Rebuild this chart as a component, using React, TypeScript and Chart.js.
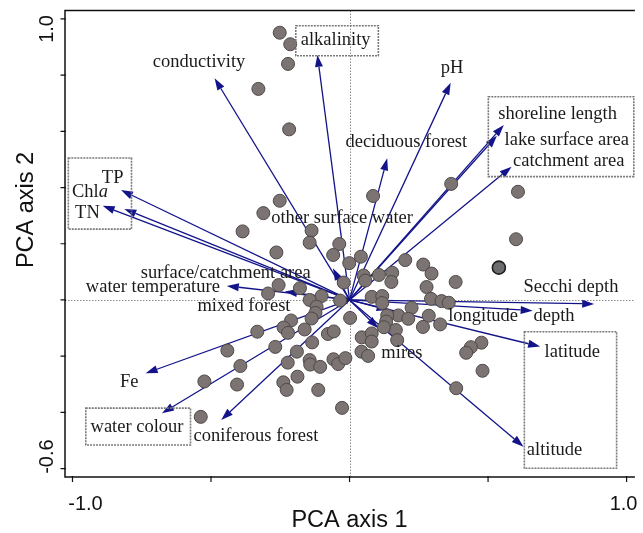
import React, { useEffect, useRef } from 'react';
import { Chart, registerables } from 'chart.js';

Chart.register(...registerables);

// ---- Site scores (PCA axis 1, PCA axis 2) ----
const SITE_X = [
  -0.252, -0.214, -0.222, -0.329, -0.218, 0.367, 0.608, 0.601, 0.383, 0.085,
  -0.252, -0.311, -0.386, -0.137, -0.144, -0.037, -0.264, -0.059, 0.041, -0.001,
  0.201, 0.266, 0.296, 0.154, 0.106, 0.051, 0.057, 0.151, -0.021, -0.256,
  -0.179, -0.294, -0.101, 0.278, -0.144, -0.119, -0.034, 0.080, 0.118, 0.118,
  0.294, 0.332, 0.358, 0.224, 0.176, 0.136, 0.132, 0.212, 0.286, 0.327,
  0.265, 0.002, -0.123, -0.137, -0.211, -0.238, -0.222, -0.162, -0.333, -0.078,
  -0.057, 0.044, 0.080, 0.080, 0.167, 0.172, 0.124, -0.135, -0.268, -0.190,
  -0.441, 0.043, 0.067, -0.394, -0.223, -0.144, -0.142, -0.106, -0.058, -0.041,
  -0.015, -0.524, -0.406, -0.239, -0.188, -0.227, -0.113, -0.027, -0.537, 0.476,
  0.438, 0.421, 0.480, 0.385,
];
const SITE_Y = [
  0.951, 0.910, 0.840, 0.751, 0.607, 0.413, 0.385, 0.216, 0.064, 0.370,
  0.353, 0.309, 0.244, 0.247, 0.204, 0.199, 0.169, 0.160, 0.154, 0.131,
  0.142, 0.126, 0.094, 0.097, 0.089, 0.087, 0.069, 0.064, 0.062, 0.053,
  0.042, 0.023, 0.014, 0.046, 0.000, -0.024, -0.002, 0.011, 0.014, -0.011,
  0.004, -0.004, -0.010, -0.028, -0.055, -0.055, -0.077, -0.067, -0.056, -0.087,
  -0.096, -0.064, -0.046, -0.066, -0.073, -0.098, -0.117, -0.105, -0.113, -0.121,
  -0.112, -0.133, -0.119, -0.148, -0.107, -0.143, -0.097, -0.151, -0.167, -0.184,
  -0.180, -0.184, -0.199, -0.235, -0.223, -0.214, -0.230, -0.238, -0.211, -0.228,
  -0.207, -0.290, -0.301, -0.293, -0.273, -0.320, -0.320, -0.384, -0.416, -0.152,
  -0.168, -0.188, -0.252, -0.314,
];
const HIGHLIGHT_X = [0.539];
const HIGHLIGHT_Y = [0.115];

// ---- Environmental variable loadings (arrow tips) ----
const VAR_NAMES = [
  'alkalinity', 'conductivity', 'pH', 'deciduous forest', 'shoreline length',
  'lake surface area', 'catchment area', 'TP', 'Chla', 'TN',
  'other surface water', 'surface/catchment area', 'water temperature', 'mixed forest',
  'Secchi depth', 'depth', 'longitude', 'mires', 'latitude', 'altitude',
  'Fe', 'water colour', 'coniferous forest',
];
const VAR_X = [
  -0.116, -0.487, 0.365, 0.136, 0.557,
  0.532, 0.585, -0.825, -0.813, -0.891,
  -0.060, -0.233, -0.443, -0.045,
  0.883, 0.661, 0.141, 0.104, 0.688, 0.628,
  -0.736, -0.677, -0.463,
];
const VAR_Y = [
  0.872, 0.789, 0.773, 0.504, 0.623,
  0.584, 0.474, 0.391, 0.324, 0.335,
  0.113, 0.030, 0.050, -0.006,
  -0.014, -0.038, -0.036, -0.101, -0.166, -0.522,
  -0.261, -0.403, -0.427,
];

// ---- Axes ----
const X_RANGE = [-1.027, 1.03];
const Y_RANGE = [-0.63, 1.03];
const X_TICKS = [-1, -0.5, 0, 0.5, 1];
const X_TICK_LABELS = ['-1.0', '', '', '', '1.0'];
const Y_TICKS = [-0.6, -0.4, -0.2, 0, 0.2, 0.4, 0.6, 0.8, 1.0];
const Y_TICK_LABELS = ['-0.6', '', '', '', '', '', '', '', '1.0'];
const X_TITLE = 'PCA axis 1';
const Y_TITLE = 'PCA axis 2';

// ---- Label layout (centre of each label, data units) ----
const LABEL_LAYOUT: Record<string, [number, number]> = {
  'conductivity': [-0.543, 0.847],
  'alkalinity': [-0.050, 0.925],
  'pH': [0.370, 0.826],
  'deciduous forest': [0.205, 0.562],
  'shoreline length': [0.751, 0.662],
  'lake surface area': [0.784, 0.569],
  'catchment area': [0.791, 0.495],
  'TP': [-0.855, 0.434],
  'Chla': [-0.937, 0.382],
  'TN': [-0.946, 0.310],
  'other surface water': [-0.027, 0.291],
  'surface/catchment area': [-0.447, 0.097],
  'water temperature': [-0.710, 0.047],
  'mixed forest': [-0.381, -0.023],
  'Secchi depth': [0.799, 0.045],
  'longitude': [0.482, -0.057],
  'depth': [0.738, -0.057],
  'latitude': [0.804, -0.184],
  'altitude': [0.740, -0.534],
  'mires': [0.189, -0.190],
  'Fe': [-0.795, -0.291],
  'water colour': [-0.767, -0.453],
  'coniferous forest': [-0.338, -0.486],
};
// dashed group boxes [x1, y1, x2, y2] in data units
const BOXES: [number, number, number, number][] = [
  [-0.194, 0.976, 0.104, 0.869],
  [0.501, 0.723, 1.026, 0.439],
  [-1.015, 0.505, -0.787, 0.252],
  [-0.952, -0.385, -0.574, -0.516],
  [0.631, -0.113, 0.964, -0.599],
];

const ARROW_COLOR = '#14148a';
const SERIF = '"Liberation Serif", "DejaVu Serif", serif';
const SANS = '"Liberation Sans", Arial, sans-serif';

function drawArrow(ctx: CanvasRenderingContext2D, x0: number, y0: number, x1: number, y1: number) {
  const dx = x1 - x0, dy = y1 - y0;
  const len = Math.hypot(dx, dy);
  if (len < 1) return;
  const ux = dx / len, uy = dy / len;
  const head = Math.min(12, len * 0.8), hw = 4;
  const bx = x1 - ux * head, by = y1 - uy * head;
  ctx.beginPath();
  ctx.moveTo(x0, y0);
  ctx.lineTo(bx, by);
  ctx.stroke();
  ctx.beginPath();
  ctx.moveTo(x1, y1);
  ctx.lineTo(bx - uy * hw, by + ux * hw);
  ctx.lineTo(bx + uy * hw, by - ux * hw);
  ctx.closePath();
  ctx.fill();
}

const biplotPlugin = {
  id: 'biplot',
  beforeDatasetsDraw(chart: any) {
    const { ctx, chartArea: a, scales } = chart;
    const xs = scales.x, ys = scales.y;
    const ox = xs.getPixelForValue(0), oy = ys.getPixelForValue(0);
    ctx.save();
    ctx.strokeStyle = '#8a8a8a';
    ctx.lineWidth = 1;
    ctx.setLineDash([1.5, 1.5]);
    ctx.beginPath();
    ctx.moveTo(Math.round(ox) + 0.5, a.top);
    ctx.lineTo(Math.round(ox) + 0.5, a.bottom);
    ctx.moveTo(a.left, Math.round(oy) + 0.5);
    ctx.lineTo(a.right, Math.round(oy) + 0.5);
    ctx.stroke();
    ctx.setLineDash([]);
    ctx.strokeStyle = ARROW_COLOR;
    ctx.fillStyle = ARROW_COLOR;
    ctx.lineWidth = 1.3;
    VAR_X.forEach((vx, i) => {
      drawArrow(ctx, ox, oy, xs.getPixelForValue(vx), ys.getPixelForValue(VAR_Y[i]));
    });
    ctx.restore();
  },
  afterDatasetsDraw(chart: any) {
    const { ctx, chartArea: a, scales } = chart;
    const xs = scales.x, ys = scales.y;
    ctx.save();
    // boxes
    ctx.strokeStyle = '#7a7a7a';
    ctx.lineWidth = 1.6;
    ctx.setLineDash([2, 1]);
    BOXES.forEach(([x1, y1, x2, y2]) => {
      const px1 = xs.getPixelForValue(x1), py1 = ys.getPixelForValue(y1);
      const px2 = xs.getPixelForValue(x2), py2 = ys.getPixelForValue(y2);
      ctx.strokeRect(px1, py1, px2 - px1, py2 - py1);
    });
    ctx.setLineDash([]);
    // labels
    ctx.fillStyle = '#1a1a1a';
    ctx.textBaseline = 'middle';
    const fs = 18.5;
    VAR_NAMES.forEach((name) => {
      const pos = LABEL_LAYOUT[name];
      if (!pos) return;
      const cx = xs.getPixelForValue(pos[0]);
      const cy = ys.getPixelForValue(pos[1]);
      if (name === 'Chla') {
        ctx.font = `${fs}px ${SERIF}`;
        const w1 = ctx.measureText('Chl').width;
        ctx.font = `italic ${fs}px ${SERIF}`;
        const w2 = ctx.measureText('a').width;
        const left = cx - (w1 + w2) / 2;
        ctx.textAlign = 'left';
        ctx.font = `${fs}px ${SERIF}`;
        ctx.fillText('Chl', left, cy);
        ctx.font = `italic ${fs}px ${SERIF}`;
        ctx.fillText('a', left + w1, cy);
      } else {
        ctx.font = `${fs}px ${SERIF}`;
        ctx.textAlign = 'center';
        ctx.fillText(name, cx, cy);
      }
    });
    // frame
    ctx.strokeStyle = '#111';
    ctx.lineWidth = 1.5;
    ctx.beginPath();
    ctx.moveTo(a.right, a.top);
    ctx.lineTo(a.left, a.top);
    ctx.lineTo(a.left, a.bottom);
    ctx.lineTo(a.right, a.bottom);
    ctx.stroke();
    // ticks
    ctx.lineWidth = 1.2;
    ctx.beginPath();
    Y_TICKS.forEach((t) => {
      const py = ys.getPixelForValue(t);
      ctx.moveTo(a.left - 4.5, py);
      ctx.lineTo(a.left + 1, py);
    });
    X_TICKS.forEach((t) => {
      const px = xs.getPixelForValue(t);
      ctx.moveTo(px, a.bottom - 1);
      ctx.lineTo(px, a.bottom + 5);
    });
    ctx.stroke();
    // tick labels
    ctx.fillStyle = '#111';
    ctx.font = `20px ${SANS}`;
    ctx.textAlign = 'center';
    ctx.textBaseline = 'middle';
    X_TICKS.forEach((t, i) => {
      const lab = X_TICK_LABELS[i];
      if (!lab) return;
      const px = xs.getPixelForValue(t) + (t < 0 ? 13 : -3);
      ctx.fillText(lab, px, a.bottom + 27.5);
    });
    Y_TICKS.forEach((t, i) => {
      const lab = Y_TICK_LABELS[i];
      if (!lab) return;
      const py = ys.getPixelForValue(t) + (t > 0 ? 10 : -12);
      ctx.save();
      ctx.translate(a.left - 18, py);
      ctx.rotate(-Math.PI / 2);
      ctx.fillText(lab, 0, 0);
      ctx.restore();
    });
    // axis titles
    ctx.font = `23.5px ${SANS}`;
    ctx.fillText(X_TITLE, xs.getPixelForValue(0), a.bottom + 44);
    ctx.save();
    ctx.translate(27, 210);
    ctx.rotate(-Math.PI / 2);
    ctx.fillText(Y_TITLE, 0, 0);
    ctx.restore();
    ctx.restore();
  },
};

export default function App() {
  const ref = useRef<HTMLCanvasElement | null>(null);
  useEffect(() => {
    document.body.style.margin = '0';
    const canvas = ref.current;
    if (!canvas) return;
    const chart = new Chart(canvas, {
      type: 'scatter',
      data: {
        datasets: [
          {
            label: 'sites',
            data: SITE_X.map((x, i) => ({ x, y: SITE_Y[i] })),
            pointRadius: 6.5,
            pointHoverRadius: 6.5,
            backgroundColor: '#7c7473',
            borderColor: '#4e4848',
            borderWidth: 1,
          },
          {
            label: 'highlight',
            data: HIGHLIGHT_X.map((x, i) => ({ x, y: HIGHLIGHT_Y[i] })),
            pointRadius: 6.5,
            pointHoverRadius: 6.5,
            backgroundColor: '#6c6c6e',
            borderColor: '#1e1e1e',
            borderWidth: 1.6,
          },
        ],
      },
      options: {
        responsive: false,
        animation: false,
        devicePixelRatio: 1,
        layout: { padding: { left: 65, top: 10.5, right: 0, bottom: 56 } },
        plugins: { legend: { display: false }, tooltip: { enabled: false } },
        events: [],
        scales: {
          x: { type: 'linear', min: X_RANGE[0], max: X_RANGE[1], display: false },
          y: { type: 'linear', min: Y_RANGE[0], max: Y_RANGE[1], display: false },
        },
      },
      plugins: [biplotPlugin],
    });
    return () => chart.destroy();
  }, []);
  return (
    <div style={{ width: 643, height: 533, background: '#fff' }}>
      <canvas ref={ref} width={643} height={533} style={{ display: 'block' }} />
    </div>
  );
}
